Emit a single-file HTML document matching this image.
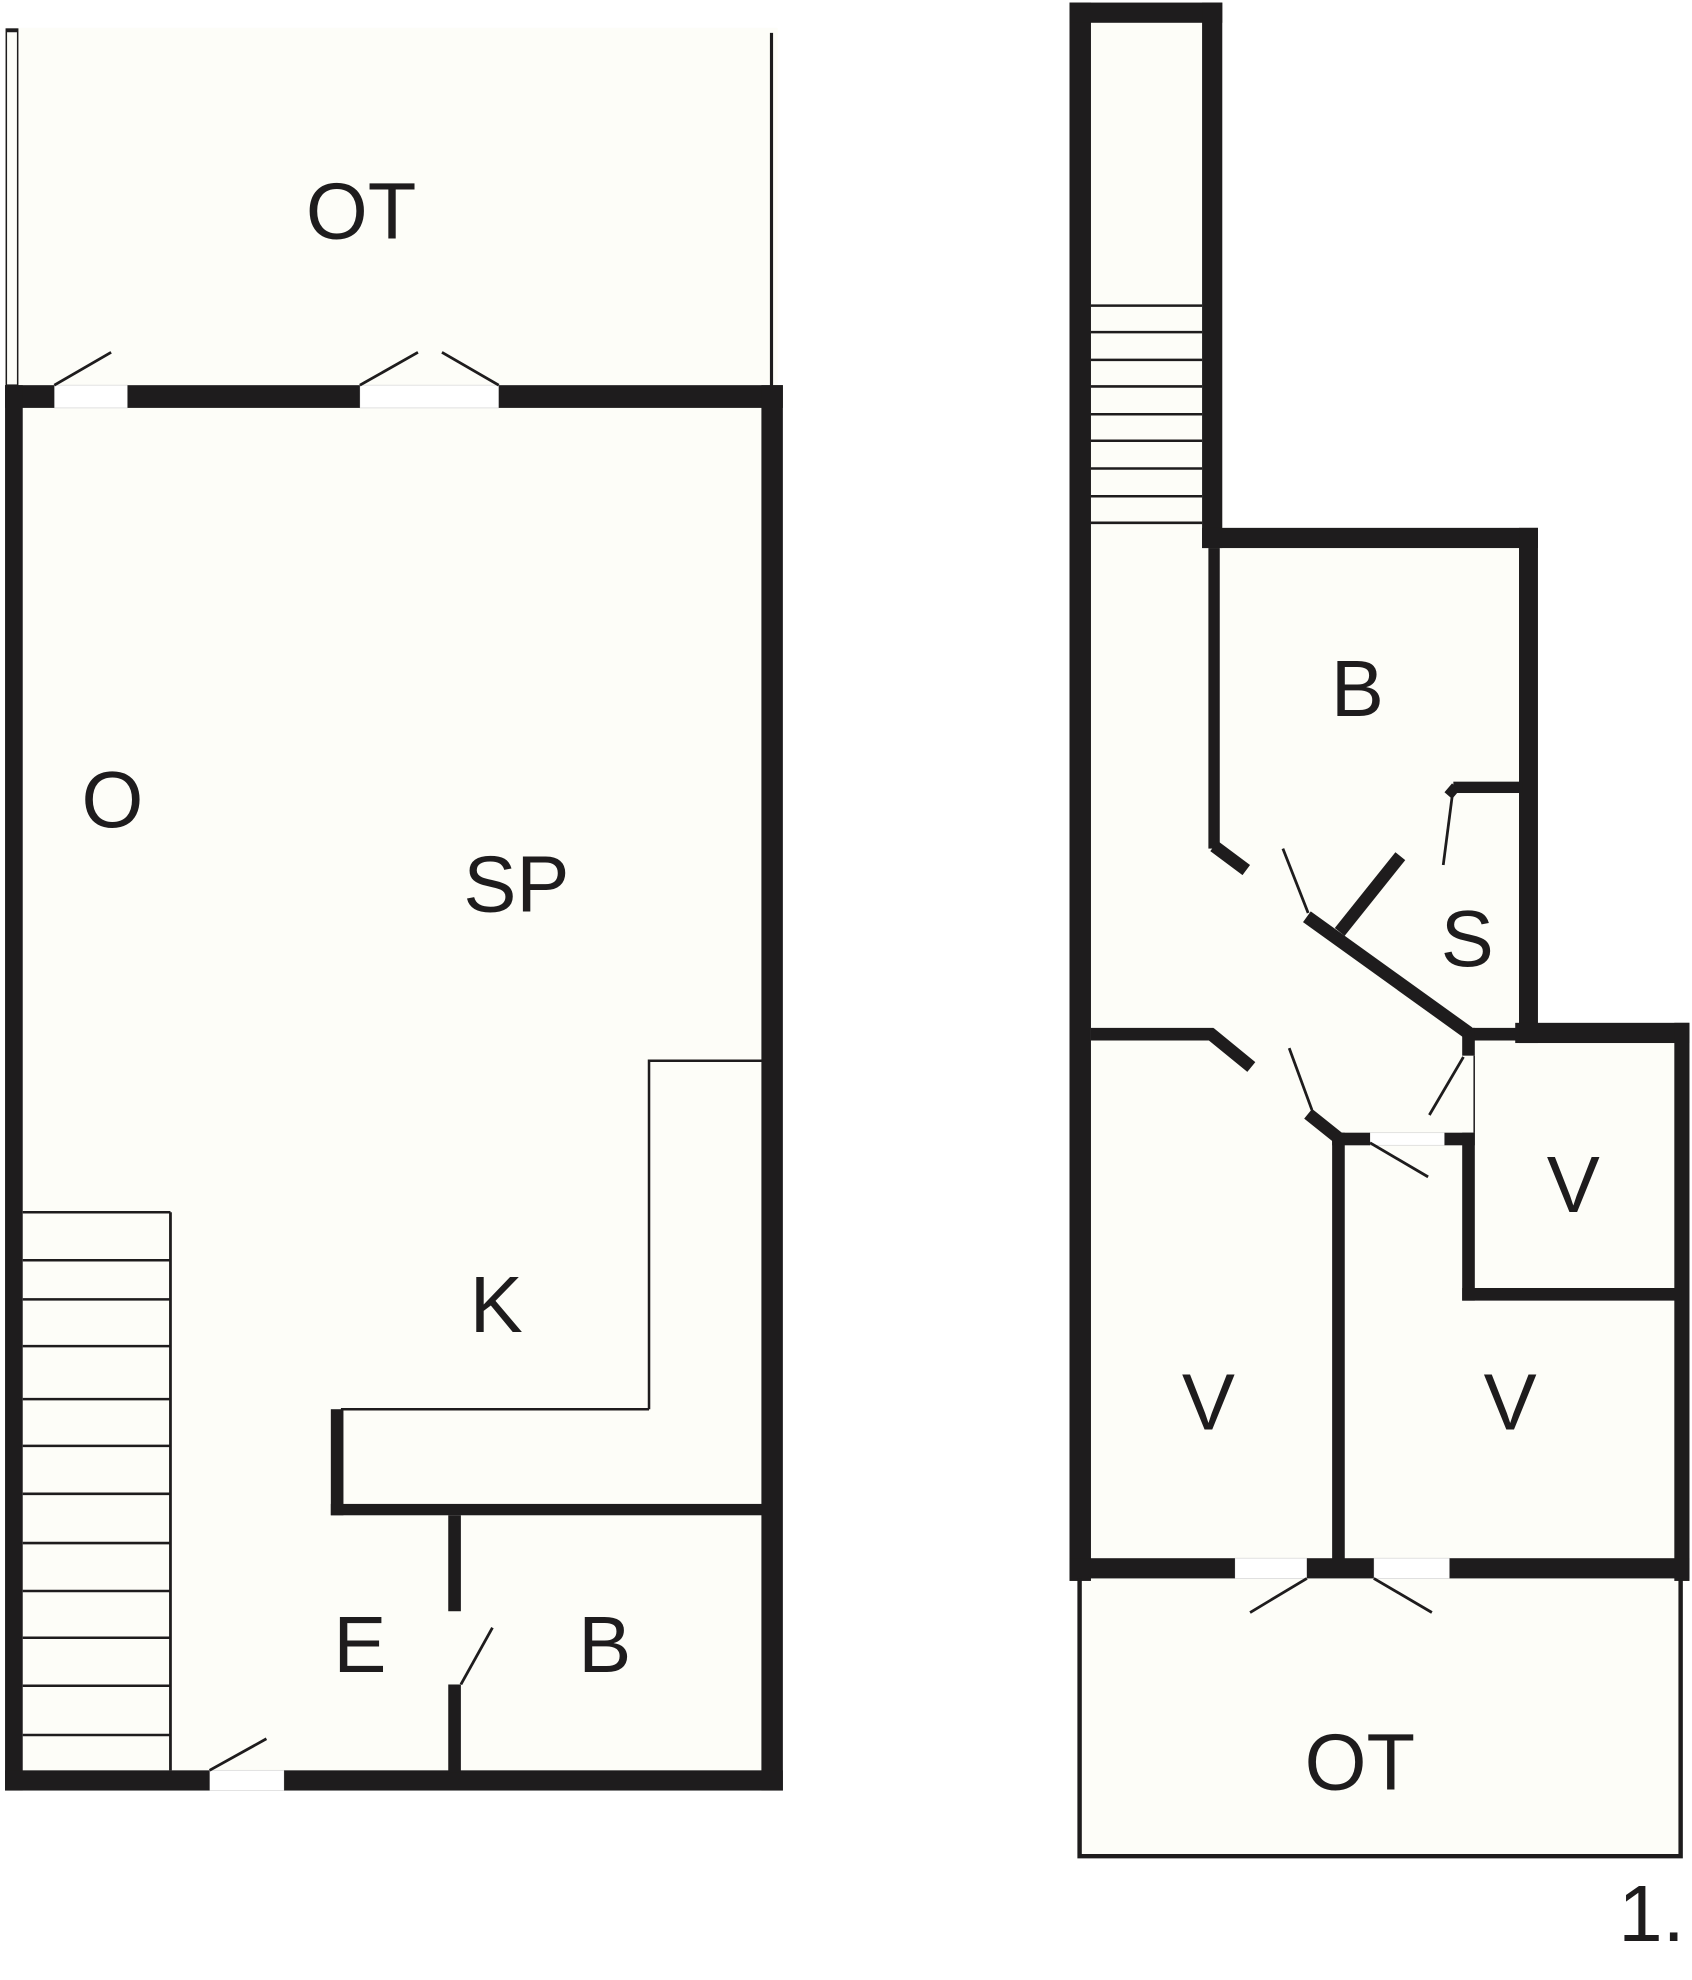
<!DOCTYPE html>
<html><head><meta charset="utf-8"><style>
html,body{margin:0;padding:0;background:#fff;}
svg{display:block;}
text{font-family:"Liberation Sans",Arial,sans-serif;fill:#1e1c1d;}
</style></head><body>
<svg width="1692" height="1980" viewBox="0 0 1340 1568" xmlns="http://www.w3.org/2000/svg">
<g fill="#fdfdf8" stroke="none">
  <rect x="4" y="22" width="612" height="1396"/>
  <rect x="847" y="2" width="121" height="1250"/>
  <rect x="954" y="418" width="264" height="834"/>
  <rect x="1200" y="810" width="138" height="442"/>
  <rect x="855" y="1250" width="476" height="220"/>
</g>
<!-- door openings (lighter) -->
<g fill="#ffffff" stroke="#d8d8d8" stroke-width="0.6">
  <rect x="43" y="305" width="58" height="18"/>
  <rect x="285" y="305" width="110" height="18"/>
  <rect x="166" y="1402" width="59" height="16"/>
  <rect x="978" y="1234" width="57" height="16"/>
  <rect x="1088" y="1234" width="60" height="16"/>
  <rect x="1085" y="897" width="59" height="10"/>
</g>
<g fill="#1e1c1d" stroke="none">
  <!-- LEFT BUILDING -->
  <rect x="4" y="305" width="39" height="18"/>
  <rect x="101" y="305" width="184" height="18"/>
  <rect x="395" y="305" width="225" height="18"/>
  <rect x="4" y="305" width="14" height="1113"/>
  <rect x="603" y="305" width="17" height="1113"/>
  <rect x="4" y="1402" width="162" height="16"/>
  <rect x="225" y="1402" width="395" height="16"/>
  <rect x="262" y="1116" width="10" height="84"/>
  <rect x="262" y="1191" width="342" height="9"/>
  <rect x="355" y="1200" width="10" height="76"/>
  <rect x="355" y="1334" width="10" height="70"/>
  <!-- RIGHT BUILDING -->
  <rect x="847" y="2" width="17" height="1250"/>
  <rect x="847" y="2" width="121" height="16"/>
  <rect x="952" y="2" width="16" height="432"/>
  <rect x="952" y="418" width="266" height="16"/>
  <rect x="1203" y="418" width="15" height="408"/>
  <rect x="1200" y="810" width="138" height="16"/>
  <rect x="1326" y="810" width="12" height="442"/>
  <rect x="957" y="434" width="9" height="238"/>
  <rect x="1151" y="619" width="55" height="9"/>
  <rect x="864" y="814" width="97" height="10"/>
  <rect x="1163" y="814" width="40" height="10"/>
  <rect x="1158" y="814" width="10" height="22"/>
  <rect x="1055" y="897" width="30" height="10"/>
  <rect x="1144" y="897" width="24" height="10"/>
  <rect x="1055" y="897" width="10" height="345"/>
  <rect x="1158" y="897" width="10" height="133"/>
  <rect x="1158" y="1020" width="174" height="10"/>
  <rect x="847" y="1234" width="131" height="16"/>
  <rect x="1035" y="1234" width="53" height="16"/>
  <rect x="1148" y="1234" width="190" height="16"/>
</g>
<g stroke="#1e1c1d" stroke-linecap="butt" fill="none">
  <polyline points="961.5,670 987,689" stroke-width="10"/>
  <polyline points="1035,726 1163,818" stroke-width="10.5"/>
  <polyline points="1061,738 1109,678" stroke-width="10"/>
  <polyline points="1147,630 1153,623" stroke-width="8"/>
  <polyline points="958,818 991,845" stroke-width="10"/>
  <polyline points="1036,882 1061,902" stroke-width="10"/>
  <!-- thin lines -->
  <line x1="611" y1="26" x2="611" y2="306" stroke-width="2.5"/>
  <rect x="5" y="23" width="9" height="282" stroke-width="1.2"/>
  <line x1="5" y1="24" x2="14" y2="24" stroke-width="3"/>
  <polyline points="514,1116 514,840 604,840" stroke-width="2"/>
  <line x1="270" y1="1116" x2="514" y2="1116" stroke-width="2"/>
  <line x1="135" y1="960" x2="135" y2="1402" stroke-width="2.2"/>
  <g stroke-width="2">
    <line x1="18" y1="960" x2="135" y2="960"/><line x1="18" y1="998" x2="135" y2="998"/>
    <line x1="18" y1="1029" x2="135" y2="1029"/><line x1="18" y1="1066" x2="135" y2="1066"/>
    <line x1="18" y1="1108" x2="135" y2="1108"/><line x1="18" y1="1145" x2="135" y2="1145"/>
    <line x1="18" y1="1183" x2="135" y2="1183"/><line x1="18" y1="1222" x2="135" y2="1222"/>
    <line x1="18" y1="1260" x2="135" y2="1260"/><line x1="18" y1="1297" x2="135" y2="1297"/>
    <line x1="18" y1="1335" x2="135" y2="1335"/><line x1="18" y1="1374" x2="135" y2="1374"/>
    <line x1="864" y1="242" x2="952" y2="242"/><line x1="864" y1="263" x2="952" y2="263"/>
    <line x1="864" y1="285" x2="952" y2="285"/><line x1="864" y1="306" x2="952" y2="306"/>
    <line x1="864" y1="328" x2="952" y2="328"/><line x1="864" y1="349" x2="952" y2="349"/>
    <line x1="864" y1="371" x2="952" y2="371"/><line x1="864" y1="393" x2="952" y2="393"/>
    <line x1="864" y1="414" x2="952" y2="414"/>
  </g>
  <!-- door swings -->
  <g stroke-width="2.2">
    <line x1="43" y1="305" x2="88" y2="279"/>
    <line x1="285" y1="305" x2="331" y2="279"/>
    <line x1="395" y1="305" x2="350" y2="279"/>
    <line x1="166" y1="1402" x2="211" y2="1377"/>
    <line x1="365" y1="1334" x2="390" y2="1289"/>
    <line x1="1016" y1="672" x2="1036" y2="723"/>
    <line x1="1150" y1="631" x2="1143" y2="685"/>
    <line x1="1021" y1="830" x2="1039" y2="879"/>
    <line x1="1159" y1="837" x2="1132" y2="883"/>
    <line x1="1085" y1="905" x2="1131" y2="932"/>
    <line x1="1035" y1="1250" x2="990" y2="1277"/>
    <line x1="1088" y1="1250" x2="1134" y2="1277"/>
  </g>
  <line x1="1167.5" y1="836" x2="1167.5" y2="897" stroke-width="1.2"/>
  <polyline points="855,1250 855,1470 1331,1470 1331,1250" stroke-width="3.5"/>
</g>
<g font-size="63" text-anchor="middle">
  <text x="286" y="189">OT</text>
  <text x="89" y="655">O</text>
  <text x="409" y="722">SP</text>
  <text x="393" y="1055">K</text>
  <text x="285" y="1324">E</text>
  <text x="479" y="1324">B</text>
  <text x="1075" y="567">B</text>
  <text x="1162" y="765">S</text>
  <text x="1246" y="960">V</text>
  <text x="957" y="1132">V</text>
  <text x="1196" y="1132">V</text>
  <text x="1077" y="1417">OT</text>
  <text x="1308" y="1537">1.</text>
</g>
</svg>
</body></html>
